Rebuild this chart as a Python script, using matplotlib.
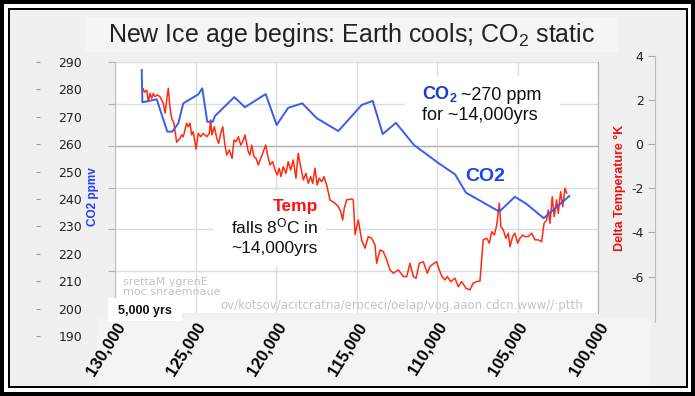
import matplotlib
matplotlib.use('Agg')
import matplotlib.pyplot as plt
from matplotlib.patches import Rectangle
import numpy as np

# CO2 (ppmv) from the Vostok core, years before present (thousands)
co2_kyr = [128.34, 128.30, 127.41, 126.75, 126.44, 126.07, 125.76, 124.83, 124.58, 124.27,
           123.93, 123.79, 122.59, 121.93, 120.64, 119.96, 119.24, 118.37, 117.47, 116.13,
           114.68, 113.99, 113.37, 112.55, 111.43, 109.81, 108.88, 108.20, 106.13, 105.16,
           104.44, 103.37, 101.78]
co2_ppm = [287.1, 275.3, 276.4, 264.6, 264.6, 267.6, 274.9, 278.2, 280.4, 268.2,
           268.2, 270.3, 277.2, 273.5, 278.3, 267.0, 273.3, 274.9, 269.5, 264.8,
           274.3, 275.8, 263.7, 267.8, 259.7, 252.7, 249.0, 242.3, 235.4, 240.8,
           238.2, 233.0, 241.1]

# Delta temperature (K)
temp_kyr = [128.24, 128.18, 128.03, 127.93, 127.83, 127.72, 127.62, 127.52, 127.37, 127.21,
            127.00, 126.89, 126.79, 126.69, 126.58, 126.48, 126.34, 126.17, 125.96, 125.86,
            125.76, 125.55, 125.45, 125.34, 125.24, 125.14, 124.97, 124.83, 124.68, 124.52,
            124.30, 124.14, 124.06, 123.98, 123.83, 123.68, 123.56, 123.43, 123.31, 123.17,
            123.06, 122.90, 122.73, 122.61, 122.48, 122.34, 122.19, 122.07, 121.93, 121.82,
            121.72, 121.62, 121.51, 121.37, 121.24, 121.10, 120.95, 120.79, 120.64, 120.52,
            120.37, 120.21, 120.06, 119.92, 119.80, 119.69, 119.55, 119.38, 119.24, 119.09,
            118.93, 118.76, 118.62, 118.47, 118.30, 118.14, 118.00, 117.85, 117.72, 117.58,
            117.44, 117.31, 117.16, 117.02, 116.85, 116.65, 116.34, 116.13, 115.98, 115.86,
            115.76, 115.61, 115.30, 115.20, 115.09, 114.89, 114.68, 114.47, 114.27, 114.06,
            113.85, 113.75, 113.54, 113.34, 113.12, 112.92, 112.71, 112.40, 112.09, 111.88,
            111.68, 111.47, 111.30, 111.10, 110.85, 110.60, 110.44, 110.19, 110.02, 109.86,
            109.69, 109.50, 109.36, 109.15, 108.88, 108.68, 108.47, 108.20, 107.95, 107.75,
            107.54, 107.33, 107.13, 106.91, 106.75, 106.60, 106.44, 106.29, 106.13, 106.03,
            105.88, 105.72, 105.57, 105.47, 105.30, 105.16, 104.99, 104.85, 104.68, 104.54,
            104.33, 104.12, 103.91, 103.71, 103.50, 103.35, 103.19, 103.09, 102.98, 102.84,
            102.72, 102.57, 102.47, 102.32, 102.19, 102.05, 101.95]
temp_k = [2.50, 2.34, 2.44, 1.91, 2.29, 2.07, 2.29, 2.14, 2.22, 2.14,
          1.84, 1.39, 1.99, 2.52, 1.61, 1.16, 0.94, 0.08, 0.26, 0.41,
          0.33, 0.94, 0.78, 0.94, 0.41, 0.56, -0.23, 0.48, 0.33, 0.48,
          0.33, 0.48, 1.09, 0.41, 0.78, 0.26, 0.03, 0.48, 0.78, -0.05,
          -0.50, -0.27, -0.65, 0.18, 0.10, 0.33, -0.05, 0.10, 0.41, 0.03,
          -0.35, -0.50, -0.05, -0.57, -0.65, -0.95, -0.65, -0.35, -0.05, -0.50,
          -0.95, -0.80, -1.18, -1.40, -1.10, -1.48, -1.03, -1.33, -0.80, -1.18,
          -0.72, -1.55, -0.42, -1.03, -1.63, -1.33, -1.78, -1.48, -1.78, -1.10,
          -1.86, -1.55, -1.71, -1.48, -1.86, -2.53, -2.68, -2.84, -3.06, -3.44,
          -2.91, -2.53, -2.49, -2.53, -4.10, -3.44, -4.34, -4.72, -4.19, -4.27,
          -4.57, -5.40, -4.80, -4.87, -5.25, -5.70, -5.85, -5.70, -6.00, -6.00,
          -5.40, -6.00, -6.08, -5.40, -5.33, -5.85, -5.55, -5.40, -5.33, -5.70,
          -6.00, -6.15, -6.00, -6.23, -6.08, -6.46, -6.23, -6.53, -6.60, -6.30,
          -6.23, -6.20, -4.34, -4.27, -4.49, -3.97, -4.12, -3.67, -2.68, -3.74,
          -3.89, -4.27, -4.04, -4.65, -4.19, -4.04, -4.49, -4.27, -4.12, -4.19,
          -4.19, -4.04, -4.34, -4.34, -4.42, -3.59, -3.44, -2.99, -3.59, -2.38,
          -3.29, -2.53, -3.14, -2.16, -2.84, -2.00, -2.22]

x_ticks = [130000, 125000, 120000, 115000, 110000, 105000, 100000]
x_labels = ['130,000', '125,000', '120,000', '115,000', '110,000', '105,000', '100,000']
co2_ticks = [190, 200, 210, 220, 230, 240, 250, 260, 270, 280, 290]
temp_ticks = [4, 2, 0, -2, -4, -6]

W, H = 695, 396
plt.rcParams['font.family'] = ['Liberation Sans', 'DejaVu Sans']
plt.rcParams['axes.unicode_minus'] = False


def fx(px):
    return px / W


def fy(py):
    return 1 - py / H


fig = plt.figure(figsize=(W / 100, H / 100), dpi=100, facecolor='black')


def box(x0, y0, x1, y1, color, z):
    fig.add_artist(Rectangle((fx(x0), fy(y1)), (x1 - x0) / W, (y1 - y0) / H,
                             transform=fig.transFigure, facecolor=color,
                             edgecolor='none', zorder=z))


# frame: thick black, white gap, thin black line, grey panel
box(4, 4, 691, 392, 'white', -9)
box(8, 8, 688, 388, 'black', -8)
box(10, 10, 686, 386, '#f0f0f0', -7)
box(85, 17, 618, 52, '#f5f5f5', -6)
box(97, 319, 650, 386, '#f4f4f4', -6)

fig.text(fx(352), fy(35), 'New Ice age begins: Earth cools; CO$\\mathregular{_2}$ static',
         ha='center', va='center', fontsize=18, color='#222222')

# inner chart (Vostok plot)
ax = fig.add_axes([fx(115), fy(313), (598 - 115) / W, (313 - 62) / H])
ax.set_xlim(130000, 100000)
ax.set_ylim(-8, 4)
ax.set_xticks(x_ticks)
ax.set_xticklabels(x_labels, rotation=58, ha='right', rotation_mode='anchor',
                   fontsize=12, fontweight='bold')
ax.tick_params(axis='x', length=0, pad=5)
ax.set_yticks(temp_ticks)
ax.tick_params(axis='y', left=False, right=True, labelleft=False, length=5, color='#b0b0b0')
ax.grid(True, color='#dcdcdc', lw=1)
ax.set_axisbelow(True)
ax.axhline(0, color='#b5b5b5', lw=1, zorder=0.6)
for s in ['top', 'bottom']:
    ax.spines[s].set_visible(False)
ax.spines['left'].set_color('#c0c0c0')
ax.spines['right'].set_color('#b0b0b0')

# white boxes behind the annotations
for x0, y0, x1, y1 in [(405, 76, 560, 128), (213, 190, 326, 266)]:
    ax.add_patch(Rectangle((fx(x0), fy(y1)), (x1 - x0) / W, (y1 - y0) / H,
                           transform=fig.transFigure, facecolor='white',
                           edgecolor='none', zorder=1))

ax_t = ax.twinx()
ax_t.set_ylim(-7.65, 3.71)
ax_t.axis('off')
ax_t.plot(np.array(temp_kyr) * 1000, temp_k, color='#ff2a10', lw=1.1)

ax_co2 = ax.twinx()
ax_co2.set_ylim(198.4, 290)
ax_co2.axis('off')
ax_co2.plot(np.array(co2_kyr) * 1000, co2_ppm, color='#3a5cf0', lw=1.4)

# outer CO2 scale (left)
ax_l = fig.add_axes([fx(40), fy(345), 10 / W, (345 - 50) / H])
ax_l.set_ylim(186.72, 294.38)
ax_l.set_yticks(co2_ticks)
ax_l.tick_params(axis='y', left=True, right=False, labelleft=False, labelright=True,
                 length=3, color='#999999', pad=3, labelsize=9,
                 labelfontfamily='DejaVu Sans', labelcolor='#222222')
ax_l.xaxis.set_visible(False)
ax_l.patch.set_visible(False)
for s in ax_l.spines.values():
    s.set_visible(False)

# outer temperature scale (right)
ax_r = fig.add_axes([fx(645), fy(330), 10 / W, 280 / H])
ax_r.set_ylim(-8.416, 4.253)
ax_r.set_yticks(temp_ticks)
ax_r.tick_params(axis='y', left=False, right=True, labelleft=True, labelright=False,
                 direction='in', length=5, color='#aaaaaa', pad=1, labelsize=9,
                 labelfontfamily='DejaVu Sans', labelcolor='#222222')
ax_r.xaxis.set_visible(False)
ax_r.patch.set_visible(False)
for s in ['left', 'top', 'bottom']:
    ax_r.spines[s].set_visible(False)
ax_r.spines['right'].set_color('#bbbbbb')
ax_r.spines['right'].set_bounds(-8.05, 4.0)

fig.text(fx(93), fy(197), 'CO2 ppmv', rotation=90, ha='center', va='center',
         fontsize=8.5, fontweight='bold', color='#1f3fff')
fig.text(fx(620), fy(188), 'Delta Temperature °K', rotation=90, ha='center', va='center',
         fontsize=9, fontweight='bold', color='#ee1111')

# mirrored watermark text of the source chart
fig.text(fx(123), fy(282), 'srettaM ygrenE', ha='left', va='center', fontsize=8,
         family='DejaVu Sans', color='#c4c4c4')
fig.text(fx(123), fy(292), 'moc.snraemnaue', ha='left', va='center', fontsize=8,
         family='DejaVu Sans', color='#c4c4c4')
fig.text(fx(583), fy(305), 'ov/kotsov/acitcratna/eroceci/oelap/vog.aaon.cdcn.www//:ptth',
         ha='right', va='center', fontsize=8.5, family='DejaVu Sans', color='#c4c4c4')

# annotations
fig.text(fx(422), fy(99.5), 'CO$\\mathregular{_2}$', ha='left', va='baseline',
         fontsize=13, fontweight='bold', color='#1a3ccc')
fig.text(fx(461), fy(99.5), '~270 ppm', ha='left', va='baseline', fontsize=13, color='#111111')
fig.text(fx(480), fy(120.5), 'for ~14,000yrs', ha='center', va='baseline', fontsize=13,
         color='#111111')
fig.text(fx(465), fy(181), 'CO2', ha='left', va='baseline', fontsize=14, fontweight='bold',
         color='#1a47e6')
fig.text(fx(318), fy(211.5), 'Temp', ha='right', va='baseline', fontsize=12.5,
         fontweight='bold', color='#ff1111')
fig.text(fx(318), fy(233.5), 'falls 8$\\mathregular{^O}$C in', ha='right', va='baseline',
         fontsize=12.5, color='#111111')
fig.text(fx(318), fy(253.5), '~14,000yrs', ha='right', va='baseline', fontsize=12.5,
         color='#111111')

box(108, 298, 182, 321, 'white', 4)
fig.text(fx(145), fy(311), '5,000 yrs', ha='center', va='center', fontsize=9,
         fontweight='bold', color='#111111', zorder=5)

fig.savefig('out.png', dpi=100, facecolor=fig.get_facecolor())
